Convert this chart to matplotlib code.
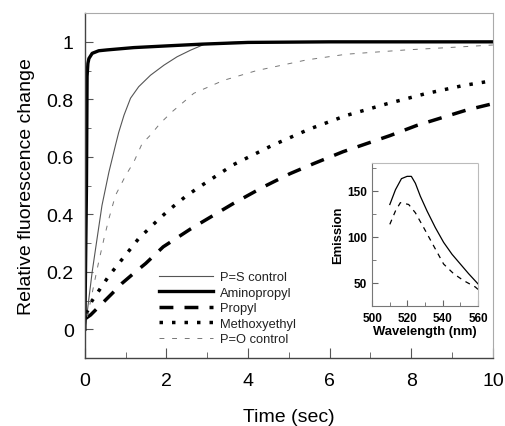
import matplotlib
matplotlib.use("Agg")
import matplotlib.pyplot as plt
from matplotlib.ticker import MultipleLocator, FuncFormatter

plt.rcParams['font.family'] = ['Liberation Sans', 'DejaVu Sans']

# ---- main panel data (time in sec, relative fluorescence change) ----
ps_x = [0, 0.04, 0.1, 0.18, 0.30, 0.42, 0.59, 0.75, 0.83, 0.96, 1.12, 1.32, 1.61, 1.94, 2.26, 2.59, 2.92, 3.4, 4.0, 10]
ps_y = [0, 0.038, 0.108, 0.2, 0.316, 0.431, 0.547, 0.64, 0.685, 0.745, 0.804, 0.844, 0.884, 0.919, 0.948, 0.971, 0.991, 0.997, 1.0, 1.0]

amino_x = [0, 0.04, 0.055, 0.075, 0.1, 0.18, 0.34, 0.55, 1.2, 2.02, 2.87, 4.0, 6.0, 10]
amino_y = [0, 0.5, 0.88, 0.925, 0.942, 0.96, 0.969, 0.972, 0.98, 0.986, 0.992, 0.998, 1.0, 1.0]

propyl_x = [0.02, 0.14, 0.38, 0.67, 0.91, 1.24, 1.49, 1.92, 2.6, 3.63, 4.37, 5.02, 5.6, 6.33, 7.48, 8.13, 8.7, 9.36, 10]
propyl_y = [0.038, 0.05, 0.084, 0.125, 0.16, 0.2, 0.229, 0.287, 0.35, 0.437, 0.495, 0.541, 0.576, 0.618, 0.674, 0.709, 0.734, 0.763, 0.785]

meth_x = [0.04, 0.17, 0.38, 0.59, 0.83, 1.08, 1.32, 1.57, 1.84, 2.12, 2.45, 2.74, 3.63, 4.58, 5.51, 6.41, 7.39, 8.33, 9.27, 10]
meth_y = [0.055, 0.098, 0.142, 0.186, 0.229, 0.273, 0.316, 0.35, 0.387, 0.422, 0.46, 0.489, 0.572, 0.639, 0.697, 0.744, 0.784, 0.819, 0.848, 0.865]

po_x = [0, 0.12, 0.22, 0.34, 0.47, 0.59, 0.75, 1.0, 1.2, 1.4, 1.61, 1.85, 2.14, 2.43, 2.67, 3.4, 4.21, 5.43, 6.41, 7.88, 8.9, 10]
po_y = [0, 0.084, 0.154, 0.235, 0.316, 0.385, 0.466, 0.535, 0.582, 0.645, 0.676, 0.717, 0.757, 0.792, 0.821, 0.866, 0.9, 0.937, 0.957, 0.972, 0.98, 0.989]

# ---- inset data (wavelength nm, emission) ----
in_solid_x = [510, 513.2, 516.6, 519.8, 522.2, 524.5, 527.3, 531.1, 535.8, 540.5, 545.3, 550, 554.7, 560]
in_solid_y = [135, 151, 163, 165.5, 165.5, 158, 144, 128, 110, 94, 81, 70.5, 60, 49]
in_dash_x = [510, 513.2, 516, 518.5, 520.7, 524.5, 529.2, 534.9, 540.5, 546.2, 551.8, 558.5, 560]
in_dash_y = [113.5, 128, 137, 136, 135, 126, 110, 90, 70.5, 60, 52.6, 45.6, 43]

labels = ["P=S control", "Aminopropyl", "Propyl", "Methoxyethyl", "P=O control"]

fig = plt.figure(figsize=(5.05, 4.27), dpi=100)
ax = fig.add_axes([0.168, 0.159, 0.808, 0.808])

ax.plot(ps_x, ps_y, color='#555555', lw=0.8, label=labels[0])
ax.plot(amino_x, amino_y, color='black', lw=2.4, label=labels[1])
ax.plot(propyl_x, propyl_y, color='black', lw=2.5, linestyle=(0, (4, 3.2)), label=labels[2])
ax.plot(meth_x, meth_y, color='black', lw=2.5, linestyle=(0, (1, 2.6)), label=labels[3])
ax.plot(po_x, po_y, color='#777777', lw=0.7, linestyle=(0, (5, 8)), label=labels[4])

ax.set_xlim(0, 10)
ax.set_ylim(-0.1, 1.1)
ax.xaxis.set_major_locator(MultipleLocator(2))
ax.xaxis.set_minor_locator(MultipleLocator(1))
ax.set_yticks([0, 0.2, 0.4, 0.6, 0.8, 1.0])
ax.yaxis.set_minor_locator(MultipleLocator(0.1))
ax.yaxis.set_major_formatter(FuncFormatter(lambda v, p: ('%g' % round(v, 2))))
ax.tick_params(which='both', direction='in', colors='#555555', labelcolor='black', labelsize=14)
ax.tick_params(axis='x', which='major', length=7, pad=10)
ax.tick_params(axis='y', which='major', length=6, pad=8)
ax.tick_params(which='minor', length=4)
for s in ['left', 'bottom']:
    ax.spines[s].set_color('#444444')
    ax.spines[s].set_linewidth(1.0)
for s in ['top', 'right']:
    ax.spines[s].set_color('#aaaaaa')
    ax.spines[s].set_linewidth(0.8)

ax.set_xlabel("Time (sec)", fontsize=14)
ax.set_ylabel("Relative fluorescence change", fontsize=14)
ax.xaxis.set_label_coords(0.5, -0.145)
ax.yaxis.set_label_coords(-0.122, 0.5)

leg = ax.legend(loc='upper left', bbox_to_anchor=(0.181, 0.252), frameon=False,
                fontsize=9.3, handlelength=4.2, handletextpad=0.55, labelspacing=0.27,
                borderpad=0, borderaxespad=0)
for t in leg.get_texts():
    t.set_color('#222222')

# ---- inset ----
ia = fig.add_axes([0.737, 0.281, 0.2095, 0.335])
ia.plot(in_solid_x, in_solid_y, color='black', lw=0.9)
ia.plot(in_dash_x, in_dash_y, color='black', lw=0.9, linestyle=(0, (4, 4)))
ia.set_xlim(500, 560)
ia.set_ylim(25, 180)
ia.xaxis.set_major_locator(MultipleLocator(20))
ia.xaxis.set_minor_locator(MultipleLocator(10))
ia.set_yticks([50, 100, 150])
ia.yaxis.set_minor_locator(MultipleLocator(25))
ia.tick_params(which='both', direction='in', colors='#666666', labelcolor='black', labelsize=8.5)
ia.tick_params(which='major', length=4, pad=4)
ia.tick_params(which='minor', length=3)
for t in ia.get_xticklabels() + ia.get_yticklabels():
    t.set_fontweight('bold')
for s in ['left', 'bottom']:
    ia.spines[s].set_color('#777777')
    ia.spines[s].set_linewidth(0.8)
for s in ['top', 'right']:
    ia.spines[s].set_color('#bbbbbb')
    ia.spines[s].set_linewidth(0.8)
    ia.spines[s].set_linestyle((0, (2, 1)))
ia.set_xlabel("Wavelength (nm)", fontsize=9.4, fontweight='bold', labelpad=1)
ia.set_ylabel("Emission", fontsize=9.4, fontweight='bold', labelpad=2)

fig.savefig("out.png", dpi=100)
